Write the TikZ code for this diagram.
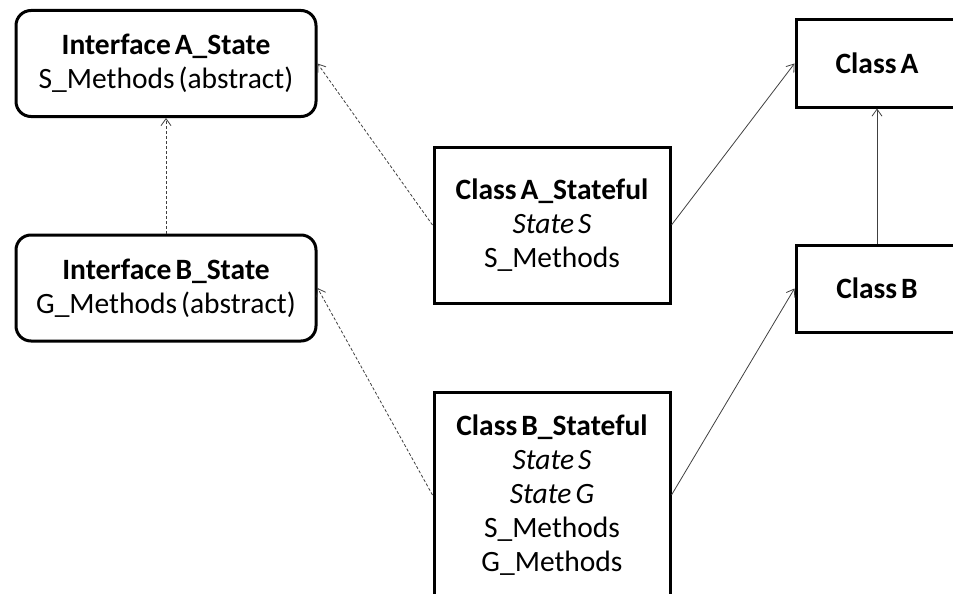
\documentclass[tikz,border=0pt]{standalone}
\usepackage{fontspec}
\setmainfont{Carlito}[WordSpace=0.6]
\usetikzlibrary{arrows.meta}

\begin{document}
\begin{tikzpicture}[
  x=1pt, y=-1pt,
  font=\fontsize{29.5}{34}\selectfont,
  box/.style={draw, line width=3pt, align=center, inner sep=0pt},
  iface/.style={box, rounded corners=15pt, minimum width=300pt, minimum height=106pt},
  cls/.style={box, minimum width=236pt},
  arr/.style={-{Straight Barb[length=7pt,width=10pt]}, line width=0.8pt, draw=black!75},
  isa/.style={arr, dash pattern=on 3pt off 2pt}
]
  \useasboundingbox (0,0) rectangle (953,594);

  % interfaces
  \node[iface] (ifA) at (166,63.5) {\textbf{Interface A\_State}\\ S\_Methods (abstract)};
  \node[iface] (ifB) at (166,288) {\textbf{Interface B\_State}\\ G\_Methods (abstract)};

  % stateful classes
  \node[cls, minimum height=156pt] (stA) at (552,225)
    {\textbf{Class A\_Stateful}\\ \textit{State S}\\ S\_Methods};
  \node[cls, minimum height=206pt] (stB) at (552,495)
    {\textbf{Class B\_Stateful}\\ \textit{State S}\\ \textit{State G}\\ S\_Methods\\ G\_Methods};

  % plain classes
  \node[box, minimum width=162pt, minimum height=87pt] (clA) at (877,63.5) {\textbf{Class A}};
  \node[box, minimum width=162pt, minimum height=87pt] (clB) at (877,288.5) {\textbf{Class B}};

  \draw[isa] (ifB.north) -- (ifA.south);
  \draw[isa] (stA.west) -- (ifA.east);
  \draw[isa] (stB.west) -- (ifB.east);
  \draw[arr] (stA.east) -- (clA.west);
  \draw[arr] (stB.east) -- (clB.west);
  \draw[arr] (clB.north) -- (clA.south);
\end{tikzpicture}
\end{document}
